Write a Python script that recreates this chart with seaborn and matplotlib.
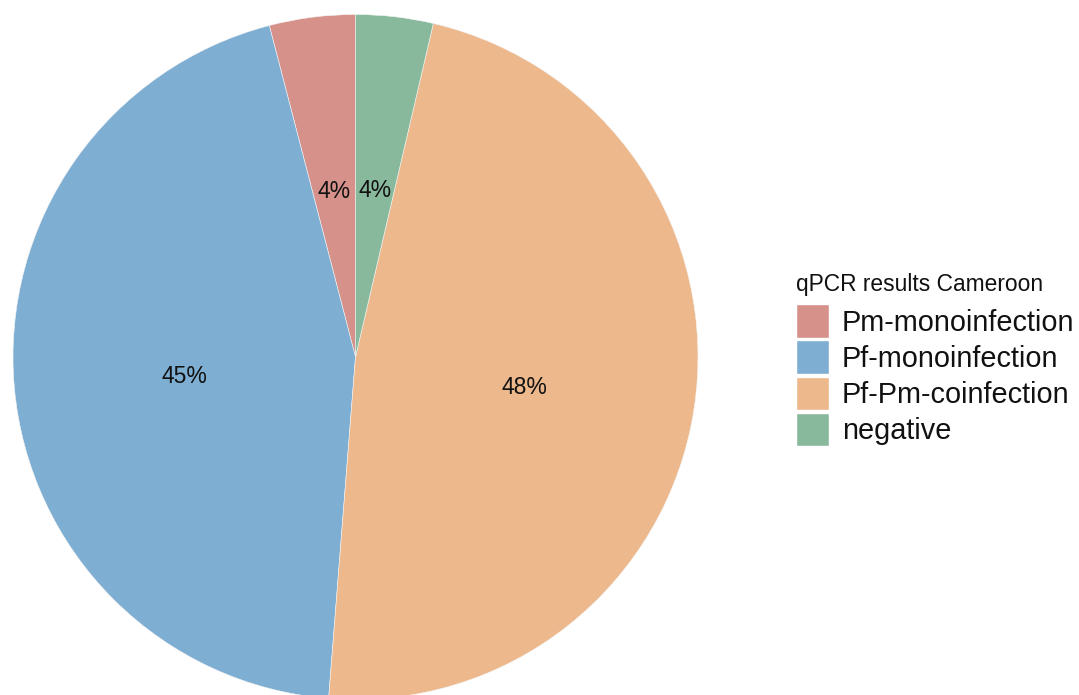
import matplotlib
matplotlib.use("Agg")
import matplotlib.pyplot as plt
import seaborn as sns
import numpy as np
from matplotlib.patches import Patch

sns.set_theme(style="white")
plt.rcParams['font.family'] = ['Liberation Sans', 'DejaVu Sans']

categories = ["Pm-monoinfection", "Pf-monoinfection", "Pf-Pm-coinfection", "negative"]
values = [4.05, 44.7, 47.6, 3.65]
labels = ["4%", "45%", "48%", "4%"]
colors = ["#D6918A", "#7FAED3", "#ECB88C", "#89B99C"]
legend_title = "qPCR results Cameroon"

W, H = 1079, 695
cx, cy, R = 355.5, 357, 342.5
fig = plt.figure(figsize=(W / 100, H / 100), dpi=100)
ax = fig.add_axes([(cx - R) / W, (H - cy - R) / H, 2 * R / W, 2 * R / H])
wedges, _ = ax.pie(values, colors=colors, startangle=90, counterclock=True,
                   radius=1.0, wedgeprops=dict(linewidth=0.4, edgecolor="#f4f4f4"))
cum = 0
for v, lab in zip(values, labels):
    mid = np.deg2rad(90 + (cum + v / 2) / sum(values) * 360)
    cum += v
    ax.text(0.5 * np.cos(mid), 0.5 * np.sin(mid) - 0.012, lab, ha="center", va="center",
            fontsize=16.5, color="#111111")
ax.set_xlim(-1, 1)
ax.set_ylim(-1, 1)
ax.set_aspect("equal")
ax.axis("off")

handles = [Patch(facecolor=c, edgecolor="white", linewidth=1.0, label=l)
           for c, l in zip(colors, categories)]
leg = fig.legend(handles=handles, title=legend_title, loc="upper left",
                 bbox_to_anchor=(796 / W, 1 - 273 / H), frameon=False,
                 fontsize=20.8, title_fontsize=16.4, handlelength=1.14, handleheight=1.4,
                 handletextpad=0.45, labelspacing=0.095, borderaxespad=0, borderpad=0)
leg._legend_box.align = "left"
leg._legend_box.sep = 6.0
for t in leg.get_texts():
    t.set_color("#111111")
leg.get_title().set_color("#111111")

fig.savefig("out.png", dpi=100)
